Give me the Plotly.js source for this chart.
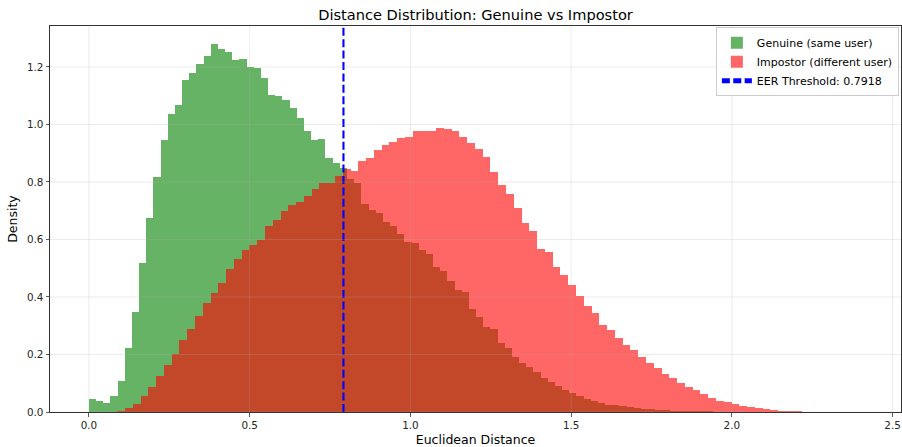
<!DOCTYPE html>
<html>
<head>
<meta charset="utf-8">
<script src="https://cdn.plot.ly/plotly-3.0.1.min.js"></script>
<style>html,body{margin:0;padding:0;background:#fff;}#chart{width:902px;height:447px;}</style>
</head>
<body>
<div id="chart"></div>
<script>
// Histogram bin definitions
const genuineBinStart = 0.0;
const genuineBinWidth = 0.0223;
const impostorBinStart = 0.088;
const impostorBinWidth = 0.02419;

// Density per bin, Genuine (same user)
const genuineDensity = [
  0.044, 0.038, 0.033, 0.0556, 0.109, 0.222, 0.3475, 0.5167, 0.675, 0.818,
  0.9466, 1.035, 1.069, 1.156, 1.179, 1.21, 1.2395, 1.2786, 1.261, 1.251,
  1.223, 1.227, 1.200, 1.197, 1.160, 1.102, 1.098, 1.084, 1.056, 1.024,
  0.976, 0.947, 0.948, 0.885, 0.867, 0.848, 0.812, 0.796, 0.723, 0.702,
  0.692, 0.661, 0.646, 0.618, 0.591, 0.587, 0.563, 0.550, 0.505, 0.490,
  0.455, 0.425, 0.416, 0.359, 0.330, 0.297, 0.289, 0.240, 0.223, 0.190,
  0.170, 0.158, 0.139, 0.119, 0.105, 0.0915, 0.0765, 0.065, 0.0556, 0.045,
  0.037, 0.030, 0.0243, 0.023, 0.021, 0.0162, 0.015, 0.0115, 0.0093, 0.008,
  0.007, 0.004, 0.0035, 0.003, 0.0025, 0.002, 0.002, 0.0015, 0.0012, 0.001,
  0.0008, 0.0007, 0.0005, 0.0004, 0.0003, 0.0003, 0.0002, 0.0002, 0.0001, 0.0001
];

// Density per bin, Impostor (different user)
const impostorDensity = [
  0.0046, 0.0127, 0.029, 0.0556, 0.087, 0.124, 0.163, 0.202, 0.250, 0.287,
  0.3325, 0.379, 0.4136, 0.4494, 0.497, 0.5307, 0.563, 0.580, 0.599, 0.6454,
  0.667, 0.699, 0.719, 0.729, 0.752, 0.776, 0.795, 0.795, 0.822, 0.844,
  0.839, 0.874, 0.885, 0.9105, 0.930, 0.939, 0.953, 0.957, 0.978, 0.979,
  0.977, 0.989, 0.983, 0.979, 0.957, 0.937, 0.914, 0.886, 0.835, 0.791,
  0.759, 0.711, 0.656, 0.630, 0.568, 0.555, 0.503, 0.475, 0.441, 0.403,
  0.3695, 0.343, 0.301, 0.285, 0.256, 0.234, 0.214, 0.192, 0.170, 0.152,
  0.131, 0.119, 0.102, 0.086, 0.0765, 0.0614, 0.048, 0.038, 0.0348, 0.0278,
  0.0209, 0.017, 0.013, 0.0093, 0.0072, 0.0045, 0.003, 0.002, 0.0015, 0.001,
  0.0008, 0.0006, 0.0004, 0.0003, 0.0002, 0.0001
];

const eerThreshold = 0.7918;

const xTickValues = [0, 0.5, 1.0, 1.5, 2.0, 2.5];
const xTickLabels = ["0.0", "0.5", "1.0", "1.5", "2.0", "2.5"];
const yTickValues = [0, 0.2, 0.4, 0.6, 0.8, 1.0, 1.2];
const yTickLabels = ["0.0", "0.2", "0.4", "0.6", "0.8", "1.0", "1.2"];

const xRange = [-0.121, 2.526];
const yRange = [0, 1.3425];

const centers = (vals, start, w) => vals.map((_, i) => start + w * (i + 0.5));

const FONT = "DejaVu Sans, Liberation Sans, sans-serif";

const traces = [
  {
    type: "bar",
    name: "Genuine (same user)",
    x: centers(genuineDensity, genuineBinStart, genuineBinWidth),
    y: genuineDensity,
    width: genuineBinWidth,
    marker: {color: "rgba(0,128,0,0.6)", line: {width: 0}},
    hoverinfo: "skip"
  },
  {
    type: "bar",
    name: "Impostor (different user)",
    x: centers(impostorDensity, impostorBinStart, impostorBinWidth),
    y: impostorDensity,
    width: impostorBinWidth,
    marker: {color: "rgba(255,0,0,0.6)", line: {width: 0}},
    hoverinfo: "skip"
  },
  {
    type: "scatter",
    mode: "lines",
    name: "EER Threshold: " + eerThreshold.toFixed(4),
    x: [eerThreshold, eerThreshold],
    y: yRange,
    line: {color: "blue", width: 2.1, dash: "8px,3.4px"},
    hoverinfo: "skip"
  }
];

const gridColor = "rgba(176,176,176,0.3)";
const shapes = [];
xTickValues.forEach(v => shapes.push({type: "line", xref: "x", yref: "paper", x0: v, x1: v, y0: 0, y1: 1, layer: "above", line: {color: gridColor, width: 0.8}}));
yTickValues.forEach(v => shapes.push({type: "line", xref: "paper", yref: "y", x0: 0, x1: 1, y0: v, y1: v, layer: "above", line: {color: gridColor, width: 0.8}}));

const layout = {
  width: 902,
  height: 447,
  margin: {l: 50, r: 1, t: 26, b: 35, pad: 0},
  paper_bgcolor: "#fff",
  plot_bgcolor: "#fff",
  barmode: "overlay",
  bargap: 0,
  showlegend: true,
  font: {family: FONT, color: "#262626", size: 10.4},
  title: {
    text: "Distance Distribution: Genuine vs Impostor",
    font: {family: FONT, size: 14.6, color: "#000"},
    x: 0.5, xref: "paper", xanchor: "center",
    y: 1, yref: "paper", yanchor: "bottom", pad: {b: 6}
  },
  xaxis: {
    range: xRange,
    tickmode: "array", tickvals: xTickValues, ticktext: xTickLabels,
    showgrid: false, zeroline: false,
    showline: true, linecolor: "#333", linewidth: 1, mirror: true,
    ticks: "outside", ticklen: 3.5, tickwidth: 0.8, tickcolor: "#333",
    tickfont: {family: FONT, size: 10.4, color: "#262626"},
    title: {text: "Euclidean Distance", font: {family: FONT, size: 12.5, color: "#000"}, standoff: 5},
    layer: "above traces"
  },
  yaxis: {
    range: yRange,
    tickmode: "array", tickvals: yTickValues, ticktext: yTickLabels,
    showgrid: false, zeroline: false,
    showline: true, linecolor: "#333", linewidth: 1, mirror: true,
    ticks: "outside", ticklen: 3.5, tickwidth: 0.8, tickcolor: "#333",
    tickfont: {family: FONT, size: 10.4, color: "#262626"},
    title: {text: "Density", font: {family: FONT, size: 12.5, color: "#000"}, standoff: 6},
    layer: "above traces"
  },
  legend: {
    x: 0.9975, xanchor: "right", y: 0.997, yanchor: "top",
    bgcolor: "rgba(255,255,255,0.8)", bordercolor: "#cccccc", borderwidth: 1,
    font: {family: FONT, size: 11, color: "#000"},
    tracegroupgap: 0, itemsizing: "constant", itemwidth: 30
  },
  shapes: shapes
};

Plotly.newPlot("chart", traces, layout, {displayModeBar: false, staticPlot: true});
</script>
</body>
</html>
